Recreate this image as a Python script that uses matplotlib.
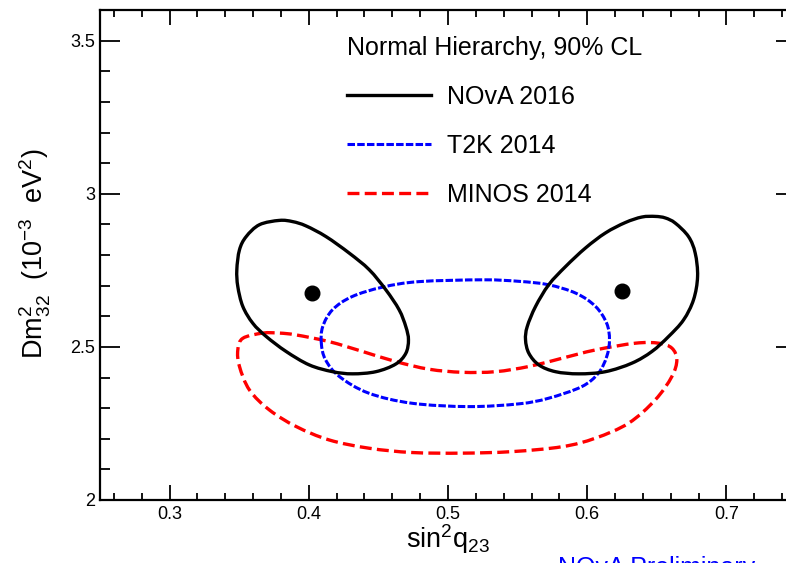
import matplotlib
matplotlib.use("Agg")
import matplotlib.pyplot as plt
import numpy as np
from matplotlib.path import Path
from matplotlib.patches import PathPatch
from matplotlib.lines import Line2D
from matplotlib.ticker import FixedLocator, MultipleLocator

plt.rcParams['font.family'] = ['Liberation Sans', 'DejaVu Sans']
plt.rcParams['mathtext.fontset'] = 'custom'
plt.rcParams['mathtext.rm'] = 'Liberation Sans'
plt.rcParams['mathtext.it'] = 'Liberation Sans:italic'
plt.rcParams['mathtext.default'] = 'regular'
plt.rcParams['lines.scale_dashes'] = False

# ---- data ----
nova_left_x = [0.3789, 0.3884, 0.3980, 0.4124, 0.4291, 0.4434, 0.4554, 0.4649, 0.4697, 0.4716,
               0.4697, 0.4625, 0.4482, 0.4314, 0.4171, 0.4004, 0.3837, 0.3694, 0.3598, 0.3526,
               0.3490, 0.3483, 0.3502, 0.3550, 0.3646]
nova_left_y = [2.913, 2.909, 2.895, 2.860, 2.806, 2.752, 2.686, 2.621, 2.566, 2.523,
               2.479, 2.444, 2.419, 2.412, 2.419, 2.441, 2.485, 2.534, 2.577, 2.632,
               2.697, 2.752, 2.817, 2.860, 2.899]

nova_right_x = [0.6489, 0.6561, 0.6633, 0.6728, 0.6776, 0.6793, 0.6764, 0.6692, 0.6585, 0.6465,
                0.6322, 0.6131, 0.5939, 0.5772, 0.5653, 0.5581, 0.5557, 0.5569, 0.5629, 0.5724,
                0.5844, 0.5988, 0.6131, 0.6274, 0.6393]
nova_right_y = [2.926, 2.921, 2.904, 2.860, 2.806, 2.730, 2.654, 2.588, 2.534, 2.485,
                2.447, 2.419, 2.412, 2.419, 2.441, 2.479, 2.523, 2.566, 2.632, 2.703,
                2.762, 2.823, 2.872, 2.906, 2.924]

t2k_x = [0.409, 0.410, 0.417, 0.431, 0.453, 0.479, 0.525, 0.551, 0.572, 0.592, 0.606, 0.614,
         0.616, 0.614, 0.608, 0.596, 0.572, 0.551, 0.515, 0.474, 0.443, 0.422, 0.412]
t2k_y = [2.512, 2.566, 2.621, 2.664, 2.695, 2.713, 2.719, 2.714, 2.703, 2.675, 2.632, 2.577,
         2.523, 2.468, 2.414, 2.370, 2.332, 2.314, 2.305, 2.316, 2.349, 2.403, 2.458]

minos_x = [0.3669, 0.3789, 0.3909, 0.4147, 0.4386, 0.4625, 0.4864, 0.5103, 0.5342, 0.5581,
           0.5820, 0.6059, 0.6346, 0.6513, 0.6608, 0.6644, 0.6608, 0.6489, 0.6298, 0.6059,
           0.5820, 0.5461, 0.5103, 0.4744, 0.4434, 0.4147, 0.3909, 0.3717, 0.3574, 0.3502,
           0.3490, 0.3526]
minos_y = [2.545, 2.545, 2.539, 2.517, 2.485, 2.452, 2.427, 2.417, 2.419, 2.436,
           2.463, 2.490, 2.512, 2.512, 2.496, 2.458, 2.403, 2.327, 2.251, 2.202,
           2.174, 2.158, 2.153, 2.155, 2.169, 2.196, 2.240, 2.294, 2.359, 2.436,
           2.490, 2.528]

bestfit_x = [0.402, 0.625]
bestfit_y = [2.675, 2.684]

xticks = [0.3, 0.4, 0.5, 0.6, 0.7]
xtick_labels = ['0.3', '0.4', '0.5', '0.6', '0.7']
yticks = [2.0, 2.5, 3.0, 3.5]
ytick_labels = ['2', '2.5', '3', '3.5']

legend_title = 'Normal Hierarchy, 90% CL'
series_labels = ['NOvA 2016', 'T2K 2014', 'MINOS 2014']


def closed_smooth_path(xs, ys):
    """Closed Catmull-Rom curve expressed as cubic Bezier segments."""
    P = np.column_stack([xs, ys])
    n = len(P)
    verts = [P[0]]
    codes = [Path.MOVETO]
    for i in range(n):
        p0, p1, p2, p3 = P[(i - 1) % n], P[i], P[(i + 1) % n], P[(i + 2) % n]
        c1 = p1 + (p2 - p0) / 6.0
        c2 = p2 - (p3 - p1) / 6.0
        verts += [c1, c2, p2]
        codes += [Path.CURVE4] * 3
    return Path(np.array(verts), codes)


W, H = 786, 563
fig = plt.figure(figsize=(W / 100, H / 100), dpi=100)
ax = fig.add_axes([100 / W, (H - 500) / H, (796 - 100) / W, 490 / H])
ax.set_xlim(0.25, 0.75)
ax.set_ylim(2.0, 3.6)

styles = {
    'nova': dict(color='black', lw=2.4, ls='-'),
    't2k': dict(color=(0, 0, 1), lw=2.2, ls=(0, (5.4, 1.6))),
    'minos': dict(color=(1, 0, 0), lw=2.4, ls=(0, (8.6, 3.8))),
}

for xs, ys, key in [(minos_x, minos_y, 'minos'), (t2k_x, t2k_y, 't2k'),
                    (nova_left_x, nova_left_y, 'nova'), (nova_right_x, nova_right_y, 'nova')]:
    st = styles[key]
    patch = PathPatch(closed_smooth_path(xs, ys), fill=False, edgecolor=st['color'],
                      lw=st['lw'], linestyle=st['ls'], transform=ax.transData,
                      capstyle='butt', joinstyle='round')
    ax.add_patch(patch)

ax.plot(bestfit_x, bestfit_y, 'o', color='black', markersize=10.5, ls='none')

# ticks
ax.xaxis.set_major_locator(FixedLocator(xticks))
ax.set_xticklabels(xtick_labels)
ax.yaxis.set_major_locator(FixedLocator(yticks))
ax.set_yticklabels(ytick_labels)
ax.xaxis.set_minor_locator(MultipleLocator(0.02))
ax.yaxis.set_minor_locator(MultipleLocator(0.1))
ax.tick_params(axis='both', which='both', direction='in', top=True, right=True,
               width=1.3, colors='black', labelsize=13)
ax.tick_params(axis='x', which='major', length=10.8, pad=4)
ax.tick_params(axis='x', which='minor', length=5.0)
ax.tick_params(axis='y', which='major', length=14.5, pad=3.5)
ax.tick_params(axis='y', which='minor', length=7.2)
for sp in ax.spines.values():
    sp.set_linewidth(1.6)

# axis titles
fig.text(448 / W, (H - 548) / H, r'sin$^{2}$q$_{23}$', fontsize=19.5,
         ha='center', va='baseline')
fig.text(43.5 / W, (H - 254) / H, r'Dm$^{2}_{32}$  (10$^{-3}$  eV$^{2}$)', fontsize=19.5,
         rotation=90, rotation_mode='anchor', ha='center', va='baseline')

# watermark
fig.text(558 / W, (H - 556) / H, 'NOvA Preliminary', fontsize=18, color=(0, 0, 1),
         ha='left', va='top')

# legend
handles = [Line2D([], [], color=styles[k]['color'], lw=styles[k]['lw'], ls=styles[k]['ls'])
           for k in ['nova', 't2k', 'minos']]
leg = ax.legend(handles, series_labels, title=legend_title, title_fontsize=18, fontsize=18,
                frameon=False, loc='upper left',
                bbox_to_anchor=(347 / W, 1 - 36.3 / H), bbox_transform=fig.transFigure,
                borderpad=0, borderaxespad=0, handlelength=3.36, handletextpad=0.64,
                labelspacing=0.99, alignment='left')

fig.savefig('out.png', dpi=100)
